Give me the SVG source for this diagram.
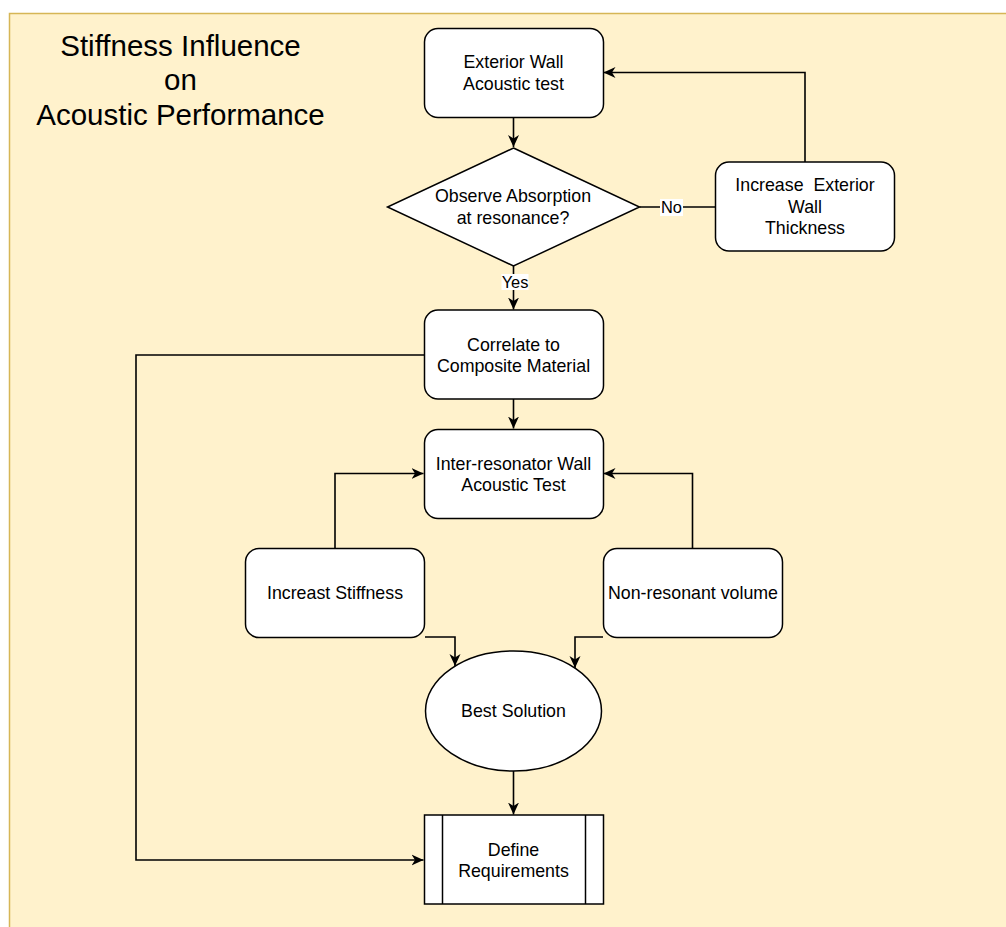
<svg xmlns="http://www.w3.org/2000/svg" width="1006" height="927" viewBox="0 0 1006 927">
  <style>
    .node { fill: #ffffff; stroke: #000000; stroke-width: 1.5; }
    .edge { fill: none; stroke: #000000; stroke-width: 1.6; }
    .lbl { font-family: "Liberation Sans", Arial, sans-serif; font-size: 17.8px; fill: #000000; text-anchor: middle; }
    .elbl { font-family: "Liberation Sans", Arial, sans-serif; font-size: 16.4px; fill: #000000; text-anchor: middle; }
    .title { font-family: "Liberation Sans", Arial, sans-serif; font-size: 29.5px; fill: #000000; text-anchor: middle; }
  </style>
  <defs>
    <marker id="arrow" markerUnits="userSpaceOnUse" markerWidth="14" markerHeight="14" viewBox="0 0 14 14" refX="12" refY="7" orient="auto">
      <path d="M0,1.5 L12,7 L0,12.5 L3.5,7 Z" fill="#000000"/>
    </marker>
  </defs>

  <!-- canvas panel -->
  <rect x="9.5" y="13.5" width="1010" height="930" fill="#fff2cc" stroke="#d6b656" stroke-width="1.5"/>

  <!-- title -->
  <g id="title">
    <text class="title" x="180.5" y="56">Stiffness Influence</text>
    <text class="title" x="180.5" y="90">on</text>
    <text class="title" x="180.5" y="124.5">Acoustic Performance</text>
  </g>

  <!-- connectors -->
  <g id="connectors">
    <path class="edge" d="M513.5,117 L513.5,147" marker-end="url(#arrow)"/>
    <path class="edge" d="M639.5,207 L715,207"/>
    <path class="edge" d="M805,162 L805,72.5 L603.5,72.5" marker-end="url(#arrow)"/>
    <path class="edge" d="M513.5,266 L513.5,309.5" marker-end="url(#arrow)"/>
    <path class="edge" d="M513.5,399 L513.5,428.5" marker-end="url(#arrow)"/>
    <path class="edge" d="M335,548 L335,473.5 L423.5,473.5" marker-end="url(#arrow)"/>
    <path class="edge" d="M692.5,548 L692.5,473.5 L603.5,473.5" marker-end="url(#arrow)"/>
    <path class="edge" d="M425,637 L455,637 L455,666" marker-end="url(#arrow)"/>
    <path class="edge" d="M603,637 L575,637 L575,668" marker-end="url(#arrow)"/>
    <path class="edge" d="M513.5,771 L513.5,814.5" marker-end="url(#arrow)"/>
    <path class="edge" d="M424,355 L136,355 L136,860 L423.5,860" marker-end="url(#arrow)"/>
    <!-- edge labels -->
    <rect x="660" y="199" width="23" height="17" fill="#ffffff"/>
    <text class="elbl" x="671.5" y="213">No</text>
    <rect x="501.5" y="274" width="27" height="16" fill="#ffffff"/>
    <text class="elbl" x="515" y="288">Yes</text>
  </g>

  <g id="exterior-wall-test">
    <rect class="node" x="424.5" y="28.5" width="179" height="89" rx="13.5"/>
    <text class="lbl" x="513.5" y="68">Exterior Wall</text>
    <text class="lbl" x="513.5" y="89.5">Acoustic test</text>
  </g>

  <g id="observe-absorption">
    <polygon class="node" points="513.5,148 639.5,207 513.5,266 387.5,207"/>
    <text class="lbl" x="513" y="202">Observe Absorption</text>
    <text class="lbl" x="513" y="224">at resonance?</text>
  </g>

  <g id="increase-thickness">
    <rect class="node" x="715.5" y="162" width="179" height="89" rx="13.5"/>
    <text class="lbl" x="805" y="191.3" xml:space="preserve">Increase  Exterior</text>
    <text class="lbl" x="805" y="212.7">Wall</text>
    <text class="lbl" x="805" y="234.1">Thickness</text>
  </g>

  <g id="correlate">
    <rect class="node" x="424.5" y="310" width="179" height="89" rx="13.5"/>
    <text class="lbl" x="513.5" y="350.5">Correlate to</text>
    <text class="lbl" x="513.5" y="372">Composite Material</text>
  </g>

  <g id="inter-resonator-test">
    <rect class="node" x="424.5" y="429.5" width="179" height="89" rx="13.5"/>
    <text class="lbl" x="513.5" y="469.5">Inter-resonator Wall</text>
    <text class="lbl" x="513.5" y="491">Acoustic Test</text>
  </g>

  <g id="increase-stiffness">
    <rect class="node" x="245.5" y="548.5" width="179" height="89" rx="13.5"/>
    <text class="lbl" x="335" y="599">Increast Stiffness</text>
  </g>

  <g id="non-resonant-volume">
    <rect class="node" x="603.5" y="548.5" width="179" height="89" rx="13.5"/>
    <text class="lbl" x="693" y="599">Non-resonant volume</text>
  </g>

  <g id="best-solution">
    <ellipse class="node" cx="513.5" cy="711" rx="88" ry="60"/>
    <text class="lbl" x="513.5" y="717">Best Solution</text>
  </g>

  <g id="define-requirements">
    <rect class="node" x="424.5" y="815" width="179" height="89"/>
    <line class="node" x1="442.5" y1="815" x2="442.5" y2="904"/>
    <line class="node" x1="585.5" y1="815" x2="585.5" y2="904"/>
    <text class="lbl" x="513.5" y="855.5">Define</text>
    <text class="lbl" x="513.5" y="877">Requirements</text>
  </g>
</svg>
